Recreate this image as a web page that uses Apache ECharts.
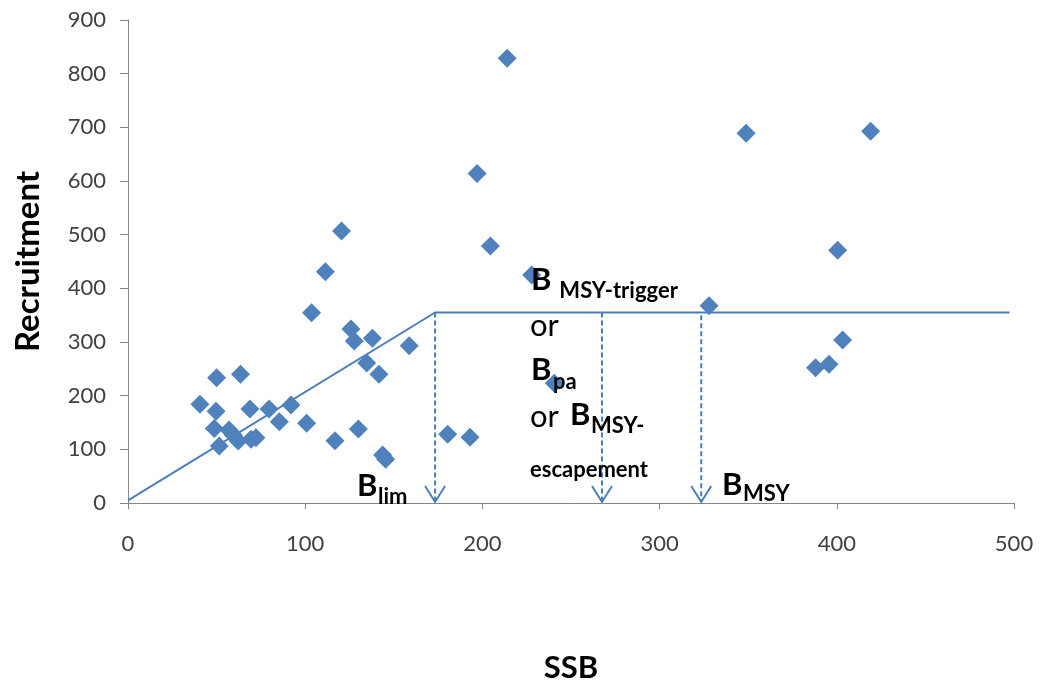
<!DOCTYPE html>
<html>
<head>
<meta charset="utf-8">
<script src="https://cdn.jsdelivr.net/npm/echarts@6/dist/echarts.min.js"></script>
<style>
html,body{margin:0;padding:0;background:#fff;}
#chart{width:1040px;height:689px;}
</style>
</head>
<body>
<div id="chart"></div>
<script>
// Stock-recruitment observations
const ssb = [40.6, 49.7, 48.7, 50, 51.5, 57, 59.4, 62.2, 63.5, 68.8, 69.4, 72.2, 79.6, 85.4, 92, 100.8, 103.6, 111.4, 116.8, 120.5, 125.8, 127.7, 130, 134.7, 137.9, 141.6, 143.7, 145.4, 158.7, 180.4, 193, 197, 204.5, 214, 227.8, 240.6, 327.9, 348.8, 388, 395.6, 400.5, 403.3, 419.1];
const recruitment = [184, 171, 139, 233.5, 106, 136, 126.7, 115.5, 240, 175, 118.7, 121.7, 175, 151.5, 182.6, 148.5, 354.6, 431, 116, 507, 324, 302, 138, 261, 307, 240, 89.4, 81.4, 293, 128, 122.4, 614, 479, 828.5, 425, 223, 367.6, 688.8, 252, 258.4, 471, 303.7, 692.6];
// Hockey-stick recruitment function
const hockeyX = [0, 173.3, 497.5];
const hockeyY = [5, 355, 355];
// Reference points (dashed arrows): x position, top value, tip value
const refNames = ['Blim', 'BMSY-trigger', 'BMSY'];
const refX = [173.3, 267.5, 323.5];
const refTop = [355, 355, 350];
const refTip = [2, 2, 2];
// Axis ticks
const xTicks = [0, 100, 200, 300, 400, 500];
const yTicks = [0, 100, 200, 300, 400, 500, 600, 700, 800, 900];

const blue = '#4F81BD';
const lineBlue = '#4A7EBB';
const FONT = 'Lato, "Open Sans", sans-serif';

const chart = echarts.init(document.getElementById('chart'));

function txt(x, y, text, size, bold) {
  return {
    type: 'text', x: x, y: y, z: 100,
    style: {
      text: text, fill: '#000',
      font: (bold ? 'bold ' : '') + size + 'px ' + FONT,
      align: 'left', verticalAlign: 'middle'
    }
  };
}

const option = {
  animation: false,
  backgroundColor: '#fff',
  grid: { left: 128, right: 26, top: 20, bottom: 186 },
  xAxis: {
    type: 'value', min: xTicks[0], max: xTicks[xTicks.length - 1], interval: 100,
    name: 'SSB', nameLocation: 'middle', nameGap: 149,
    nameTextStyle: { fontFamily: FONT, fontSize: 31, fontWeight: 'bold', color: '#000' },
    axisLine: { show: true, lineStyle: { color: '#868686', width: 1 } },
    axisTick: { show: true, length: 6, lineStyle: { color: '#868686' } },
    axisLabel: { fontFamily: FONT, fontSize: 22, color: '#404040', margin: 30 },
    splitLine: { show: false }
  },
  yAxis: {
    type: 'value', min: yTicks[0], max: yTicks[yTicks.length - 1], interval: 100,
    name: 'Recruitment', nameLocation: 'middle', nameGap: 83,
    nameTextStyle: { fontFamily: FONT, fontSize: 33, fontWeight: 'bold', color: '#000' },
    axisLine: { show: true, lineStyle: { color: '#868686', width: 1 } },
    axisTick: { show: true, length: 8, lineStyle: { color: '#868686' } },
    axisLabel: { fontFamily: FONT, fontSize: 22, color: '#404040', margin: 22 },
    splitLine: { show: false }
  },
  series: [
    {
      type: 'line',
      data: hockeyX.map((x, i) => [x, hockeyY[i]]),
      symbol: 'none',
      lineStyle: { color: lineBlue, width: 2 },
      z: 2
    },
    {
      type: 'custom',
      data: refX.map((x, i) => [x, refTop[i], refTip[i]]),
      renderItem: function (params, api) {
        const top = api.coord([api.value(0), api.value(1)]);
        const tip = api.coord([api.value(0), api.value(2)]);
        return {
          type: 'group',
          children: [
            { type: 'line', shape: { x1: top[0], y1: top[1], x2: tip[0], y2: tip[1] },
              style: { stroke: lineBlue, lineWidth: 2, lineDash: [5, 3] } },
            { type: 'polyline', shape: { points: [[tip[0] - 10, tip[1] - 16], [tip[0], tip[1]], [tip[0] + 10, tip[1] - 16]] },
              style: { stroke: lineBlue, lineWidth: 2, fill: 'none' } }
          ]
        };
      },
      z: 3
    },
    {
      type: 'scatter',
      data: ssb.map((x, i) => [x, recruitment[i]]),
      symbol: 'diamond',
      symbolSize: 19,
      itemStyle: { color: blue, opacity: 1 },
      z: 4
    }
  ],
  graphic: [
    txt(357, 486, 'B', 31, true), txt(378, 497, 'lim', 22, true),
    txt(722, 485, 'B', 31, true), txt(743, 494, 'MSY', 22, true),
    txt(531, 280, 'B', 31, true), txt(554, 291, ' MSY-trigger', 22, true),
    txt(530, 326, 'or', 31, false),
    txt(531, 370, 'B', 31, true), txt(553, 382, 'pa', 22, true),
    txt(530, 417, 'or', 31, false), txt(570, 415, 'B', 31, true), txt(591, 426, 'MSY-', 22, true),
    txt(530, 470, 'escapement', 22, true)
  ]
};
chart.setOption(option);
</script>
</body>
</html>
